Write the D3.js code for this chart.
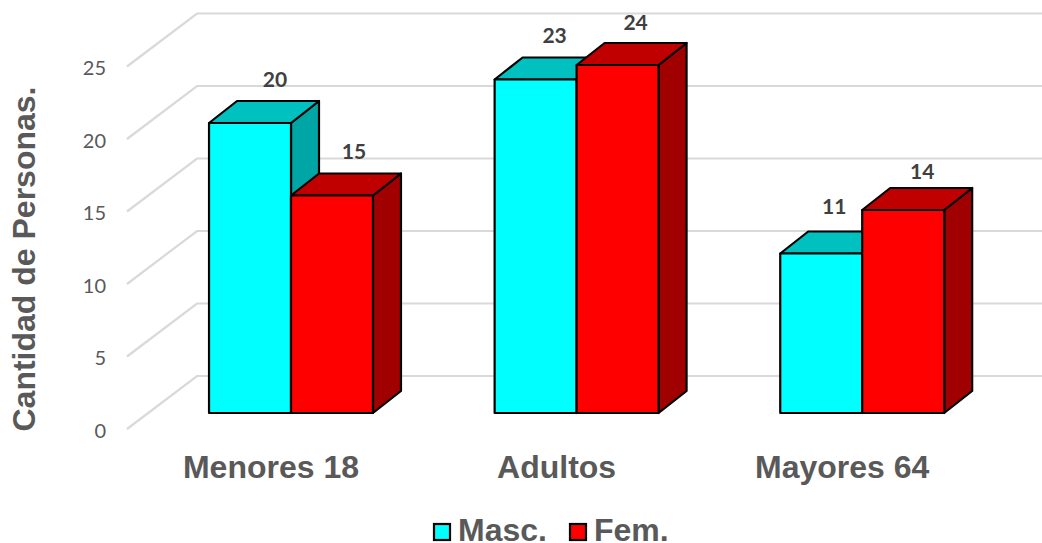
<!DOCTYPE html>
<html>
<head>
<meta charset="utf-8">
<script src="https://cdnjs.cloudflare.com/ajax/libs/d3/7.8.5/d3.min.js"></script>
<style>
  html, body { margin: 0; padding: 0; background: #fff; }
  svg { display: block; }
</style>
</head>
<body>
<svg id="chart" width="1042" height="543"></svg>
<script>
const categories = ["Menores 18", "Adultos", "Mayores 64"];
const seriesNames = ["Masc.", "Fem."];
const masc = [20, 23, 11];
const fem = [15, 24, 14];
const yTicks = [0, 5, 10, 15, 20, 25];
const axisTitle = "Cantidad de Personas.";

const seriesValues = [masc, fem];
const palette = [
  { front: "#00ffff", top: "#00c0c0", side: "#00a5a5" },
  { front: "#ff0000", top: "#c00000", side: "#a00000" }
];

// Hand placement of value labels relative to each column centre and top face
const labelNudgeX = [[25, 19, 13], [22, 18, 19]];
const labelNudgeY = [[-14, -14.5, -18], [-15, -13, -9]];

const svg = d3.select("#chart");
const sans = "'Liberation Sans', Arial, sans-serif";
const humanist = "Lato, 'Open Sans', sans-serif";

const depthX = 28, depthY = -22;

const y = d3.scaleLinear().domain([0, 25]).range([413, 50.5]);
const x0 = d3.scaleBand().domain(categories).range([148.2, 1005])
  .paddingInner(0.426).paddingOuter(0.213);
const x1 = d3.scaleBand().domain(seriesNames).range([0, x0.bandwidth()]);

// Back wall and left floor-side gridlines
const wallLeft = 197, wallRight = 1042, wallDrop = 37;
const gridColor = "#d9d9d9";
const grid = svg.append("g").attr("fill", "none")
  .attr("stroke", gridColor).attr("stroke-width", 2.2);
grid.selectAll("path").data(yTicks).join("path")
  .attr("d", v => {
    const back = y(v) - wallDrop;
    return `M127,${back + 53}L${wallLeft},${back}L${wallRight},${back}`;
  });

// Value axis labels only: the axis line and tick marks stay hidden
const axis = d3.axisLeft(y).tickValues(yTicks).tickSize(0).tickPadding(0);
const axisG = svg.append("g").attr("transform", "translate(106,18)").call(axis);
axisG.select(".domain").remove();
axisG.selectAll("text")
  .attr("font-family", humanist).attr("font-size", 20)
  .attr("fill", "#595959");

// Three-faced columns, left to right so nearer faces overlap correctly
const bars = [];
categories.forEach((c, i) => {
  seriesNames.forEach((s, j) => bars.push({ c, s, i, j, value: seriesValues[j][i] }));
});

const barG = svg.append("g").selectAll("g").data(bars).join("g")
  .attr("stroke", "#000").attr("stroke-width", 2.2)
  .attr("stroke-linejoin", "round");

const xL = d => x0(d.c) + x1(d.s);
const xR = d => xL(d) + x1.bandwidth();

barG.append("path").attr("fill", d => palette[d.j].side)
  .attr("d", d => `M${xR(d)},${y(d.value)}L${xR(d) + depthX},${y(d.value) + depthY}L${xR(d) + depthX},${y(0) + depthY}L${xR(d)},${y(0)}Z`);
barG.append("path").attr("fill", d => palette[d.j].top)
  .attr("d", d => `M${xL(d)},${y(d.value)}L${xL(d) + depthX},${y(d.value) + depthY}L${xR(d) + depthX},${y(d.value) + depthY}L${xR(d)},${y(d.value)}Z`);
barG.append("rect").attr("fill", d => palette[d.j].front)
  .attr("x", xL).attr("y", d => y(d.value))
  .attr("width", x1.bandwidth()).attr("height", d => y(0) - y(d.value));

// Value labels above each column
svg.append("g").selectAll("text").data(bars).join("text")
  .attr("x", d => xL(d) + x1.bandwidth() / 2 + labelNudgeX[d.j][d.i])
  .attr("y", d => y(d.value) + depthY + labelNudgeY[d.j][d.i])
  .attr("text-anchor", "middle").attr("font-family", humanist)
  .attr("font-weight", 700).attr("font-size", 21).attr("fill", "#404040")
  .text(d => d.value);

// Category labels
svg.append("g").selectAll("text").data(categories).join("text")
  .attr("x", d => x0(d) + x0.bandwidth() / 2 - 20)
  .attr("y", 478)
  .attr("text-anchor", "middle").attr("font-family", sans)
  .attr("font-weight", 700).attr("font-size", 32).attr("fill", "#595959")
  .text(d => d);

// Rotated value-axis title
svg.append("text")
  .attr("transform", "translate(35,259) rotate(-90)")
  .attr("text-anchor", "middle").attr("font-family", sans)
  .attr("font-weight", 700).attr("font-size", 32).attr("fill", "#595959")
  .text(axisTitle);

// Legend
const legendX = [434, 570];
const legend = svg.append("g").selectAll("g").data(seriesNames).join("g")
  .attr("transform", (d, i) => `translate(${legendX[i]},524)`);
legend.append("rect").attr("width", 16).attr("height", 16)
  .attr("fill", (d, i) => palette[i].front)
  .attr("stroke", "#000").attr("stroke-width", 2.2);
legend.append("text").attr("x", 24).attr("y", 17)
  .attr("font-family", sans).attr("font-weight", 700)
  .attr("font-size", 32).attr("fill", "#595959")
  .text(d => d);
</script>
</body>
</html>
